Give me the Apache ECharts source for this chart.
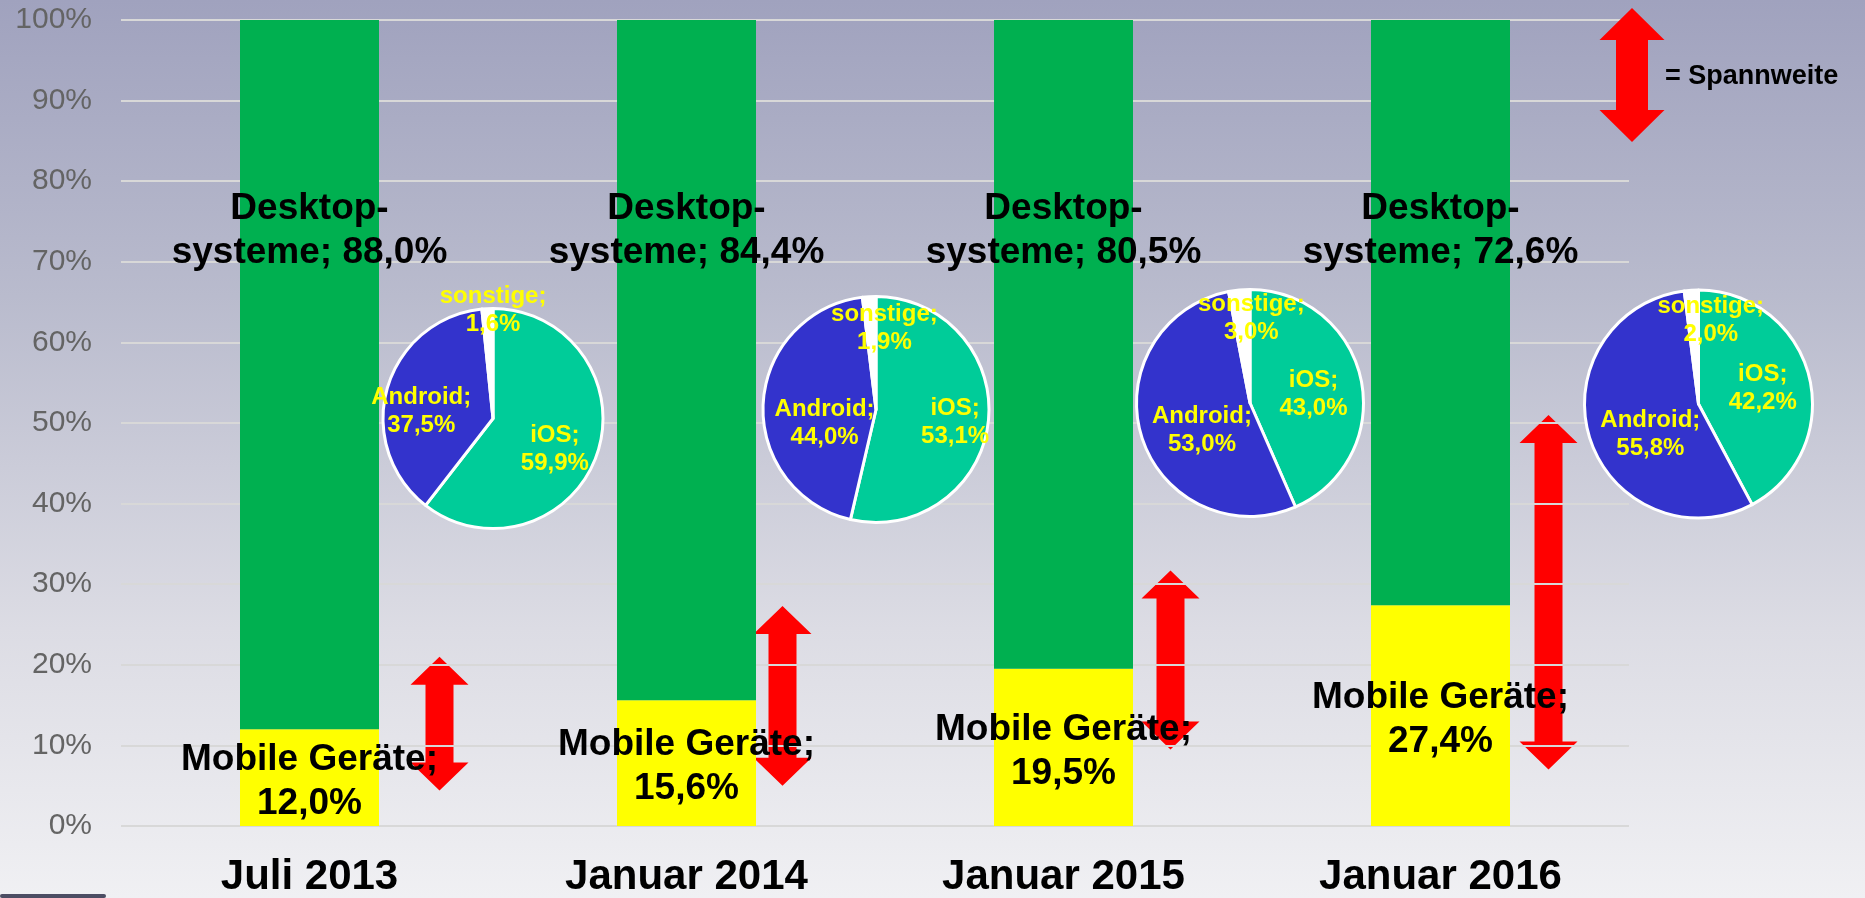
<!DOCTYPE html>
<html>
<head>
<meta charset="utf-8">
<script src="https://cdn.jsdelivr.net/npm/echarts@6/dist/echarts.min.js"></script>
<style>
  html, body { margin: 0; padding: 0; }
  #chart {
    width: 1865px;
    height: 898px;
    background: linear-gradient(to bottom, #a0a2be 0%, #b9bbcd 33%, #dcdce4 70%, #f0f0f3 100%);
  }
</style>
</head>
<body>
<div id="chart"></div>
<script>
// Daten
const periods = ["Juli 2013", "Januar 2014", "Januar 2015", "Januar 2016"];
const mobile = [12.0, 15.6, 19.5, 27.4];
const desktop = [88.0, 84.4, 80.5, 72.6];
const osNames = ["iOS", "Android", "sonstige"];
const ios = [59.9, 53.1, 43.0, 42.2];
const android = [37.5, 44.0, 53.0, 55.8];
const other = [1.6, 1.9, 3.0, 2.0];
// Spannweite (Pfeile), in %
const rangeLow = [4.4, 5.0, 9.5, 7.0];
const rangeHigh = [21.0, 27.3, 31.7, 51.0];

// Layout / Stil
const FONT = "'Liberation Sans', Arial, sans-serif";
const pieCenters = [[493, 418.5], [876, 409.5], [1250, 403], [1698.5, 404]];
const pieRadius = [110, 113, 113.5, 114];
// Verschiebung der Tortenbeschriftungen [iOS, Android, sonstige]
const pieLabelShift = [
  [[7, 12], [-16, 9], [3, -50]],
  [[20, 6], [8, 17], [12, -22]],
  [[5, 4], [9, 10], [7, -25]],
  [[6, -1], [9, 12], [16, -24]]
];
const arrowShift = [130, 96, 107, 108];

const fmt = v => v.toFixed(1).replace(".", ",") + "%";

function arrowPoints(cx, yT, yB, hw, h, sw) {
  return [
    [cx, yT], [cx + hw, yT + h], [cx + sw, yT + h], [cx + sw, yB - h],
    [cx + hw, yB - h], [cx, yB], [cx - hw, yB - h], [cx - sw, yB - h],
    [cx - sw, yT + h], [cx - hw, yT + h]
  ];
}

let chart = echarts.init(document.getElementById("chart"));

let pieSeries = periods.map((p, i) => ({
  type: "pie",
  z: 3,
  center: pieCenters[i],
  radius: pieRadius[i],
  startAngle: 90,
  clockwise: true,
  color: ["#00cc99", "#3333cc", "#ffffff"],
  itemStyle: { borderColor: "#ffffff", borderWidth: 3 },
  label: {
    show: true,
    position: "inside",
    fontFamily: FONT,
    fontSize: 24,
    fontWeight: "bold",
    color: "#ffff00",
    lineHeight: 28,
    formatter: prm => prm.name + ";\n" + fmt(prm.value)
  },
  labelLine: { show: false },
  labelLayout: prm => ({
    dx: pieLabelShift[i][prm.dataIndex][0],
    dy: pieLabelShift[i][prm.dataIndex][1]
  }),
  emphasis: { disabled: true },
  data: [
    { name: osNames[0], value: ios[i] },
    { name: osNames[1], value: android[i] },
    { name: osNames[2], value: other[i] }
  ]
}));

let option = {
  animation: false,
  textStyle: { fontFamily: FONT },
  grid: { left: 121, right: 236, top: 20, bottom: 71 },
  xAxis: {
    type: "category",
    data: periods,
    axisLine: { show: false },
    axisTick: { show: false },
    axisLabel: {
      margin: 30,
      fontFamily: FONT,
      fontSize: 42,
      fontWeight: "bold",
      color: "#000000"
    }
  },
  yAxis: {
    type: "value",
    z: 1,
    min: 0,
    max: 100,
    interval: 10,
    axisLine: { show: false },
    axisTick: { show: false },
    axisLabel: {
      formatter: "{value}%",
      margin: 29,
      fontFamily: FONT,
      fontSize: 30,
      color: "#646464"
    },
    splitLine: { lineStyle: { color: "#d8d8d8", width: 2 } }
  },
  graphic: [
    {
      type: "polygon",
      z: 10,
      shape: { points: arrowPoints(1632, 8, 142, 32.5, 32, 16) },
      style: { fill: "#ff0000" }
    },
    {
      type: "text",
      z: 10,
      x: 1665,
      y: 77,
      style: {
        text: "= Spannweite",
        font: "bold 27px " + FONT,
        fill: "#000000",
        verticalAlign: "middle"
      }
    },
    {
      type: "rect",
      z: 10,
      shape: { x: 0, y: 894, width: 106, height: 4, r: 2 },
      style: { fill: "#4c4d63" }
    }
  ],
  series: [
    {
      name: "Mobile Geräte",
      type: "bar",
      stack: "total",
      barWidth: 139,
      z: 2,
      itemStyle: { color: "#ffff00" },
      label: {
        show: true,
        position: "inside",
        offset: [0, 4],
        fontFamily: FONT,
        fontSize: 37,
        fontWeight: "bold",
        color: "#000000",
        lineHeight: 44,
        formatter: prm => "Mobile Geräte;\n" + fmt(prm.value)
      },
      emphasis: { disabled: true },
      data: mobile
    },
    {
      name: "Desktopsysteme",
      type: "bar",
      stack: "total",
      barWidth: 139,
      z: 2,
      itemStyle: { color: "#00b050" },
      label: {
        show: true,
        position: ["50%", 211],
        align: "center",
        verticalAlign: "middle",
        fontFamily: FONT,
        fontSize: 37,
        fontWeight: "bold",
        color: "#000000",
        lineHeight: 44,
        formatter: prm => "Desktop-\nsysteme; " + fmt(prm.value)
      },
      emphasis: { disabled: true },
      data: desktop
    },
    {
      name: "Spannweite",
      type: "custom",
      z: 0,
      encode: { x: 0, y: [1, 2] },
      renderItem: (params, api) => {
        let top = api.coord([api.value(0), api.value(2)]);
        let bot = api.coord([api.value(0), api.value(1)]);
        let cx = top[0] + arrowShift[params.dataIndex];
        return {
          type: "polygon",
          shape: { points: arrowPoints(cx, top[1], bot[1], 29, 28, 14) },
          style: { fill: "#ff0000" }
        };
      },
      data: periods.map((p, i) => [i, rangeLow[i], rangeHigh[i]])
    }
  ].concat(pieSeries)
};
chart.setOption(option);
</script>
</body>
</html>
